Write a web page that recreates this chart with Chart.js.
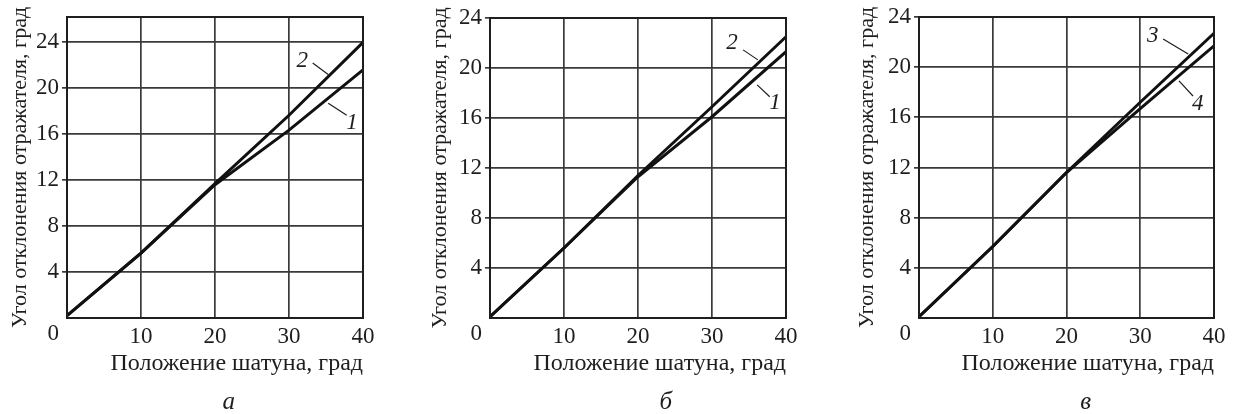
<!DOCTYPE html>
<html>
<head>
<meta charset="utf-8">
<script src="https://cdn.jsdelivr.net/npm/chart.js@4"></script>
<style>
  html, body { margin: 0; padding: 0; background: #fff; }
  #wrap { position: relative; width: 1241px; height: 414px; overflow: hidden; }
  canvas { position: absolute; top: 0; }
</style>
</head>
<body>
<div id="wrap">
  <canvas id="chart_a" width="385" height="414" style="left:0px"></canvas>
  <canvas id="chart_b" width="395" height="414" style="left:410px"></canvas>
  <canvas id="chart_c" width="401" height="414" style="left:840px"></canvas>
</div>
<script>
// crank position, deg
let x_vals = [0, 10, 20, 30, 40];

// panel a
let a_curve1 = [0.2, 5.65, 11.6, 16.35, 21.6];
let a_curve2 = [0.2, 5.65, 11.7, 17.65, 24.0];
// panel b
let b_curve1 = [0.1, 5.6, 11.3, 16.1, 21.3];
let b_curve2 = [0.1, 5.6, 11.4, 16.9, 22.5];
// panel c
let c_curve3 = [0.1, 5.7, 11.6, 17.2, 22.7];
let c_curve4 = [0.1, 5.7, 11.6, 16.7, 21.7];

let y_ticks = [4, 8, 12, 16, 20, 24];
let x_ticks = [10, 20, 30, 40];

let x_title = 'Положение шатуна, град';
let y_title = 'Угол отклонения отражателя, град';

// curve labels: [text, label x, label y, leader x1, y1, x2, y2] in data units
let a_labels = [['2', 31.8, 22.4, 33.2, 22.2, 35.3, 21.2], ['1', 38.5, 17.0, 35.3, 18.7, 37.8, 17.65]];
let b_labels = [['2', 32.7, 22.0, 34.2, 21.45, 36.2, 20.65], ['1', 38.5, 17.2, 36.1, 18.65, 37.8, 17.7]];
let c_labels = [['3', 31.7, 22.5, 33.1, 22.25, 36.5, 21.05], ['4', 37.8, 17.05, 35.25, 18.9, 37.15, 17.7]];

const FONT = '"Liberation Serif", "Times New Roman", serif';
const INK = '#1e1e1e';
const GRID = '#3a3a3a';

function pts(ys) {
    return x_vals.map((x, i) => ({x: x, y: ys[i]}));
}

const decor = {
    id: 'decor',
    afterDraw(chart) {
        let ctx = chart.ctx;
        let area = chart.chartArea;
        let sx = chart.scales.x, sy = chart.scales.y;
        let o = chart.options.plugins.decor;
        ctx.save();
        // frame
        ctx.strokeStyle = INK;
        ctx.lineWidth = 2;
        ctx.strokeRect(area.left, area.top, area.right - area.left, area.bottom - area.top);
        // curve numbers with leader lines
        ctx.lineWidth = 1.2;
        ctx.fillStyle = INK;
        ctx.font = 'italic 23px ' + FONT;
        ctx.textAlign = 'center';
        ctx.textBaseline = 'middle';
        o.labels.forEach(l => {
            ctx.fillText(l[0], sx.getPixelForValue(l[1]), sy.getPixelForValue(l[2]));
            ctx.beginPath();
            ctx.moveTo(sx.getPixelForValue(l[3]), sy.getPixelForValue(l[4]));
            ctx.lineTo(sx.getPixelForValue(l[5]), sy.getPixelForValue(l[6]));
            ctx.stroke();
        });
        // shared origin label
        ctx.font = '23px ' + FONT;
        ctx.textAlign = 'right';
        ctx.fillText('0', area.left - 8, area.bottom + 16);
        // panel letter, roughly under the axis title
        ctx.font = '24px ' + FONT;
        let tw = ctx.measureText(x_title).width;
        ctx.font = 'italic 25px ' + FONT;
        ctx.textAlign = 'center';
        ctx.fillText(o.letter, area.right - tw / 2 + o.shift, 402);
        ctx.restore();
    }
};

function make_chart(id, datasets, opts) {
    let config = {
        type: 'line',
        data: {
            datasets: datasets.map(d => ({
                data: pts(d),
                borderColor: '#111',
                borderWidth: 3,
                pointRadius: 0,
                tension: 0,
                fill: false
            }))
        },
        options: {
            responsive: false,
            animation: false,
            events: [],
            layout: {padding: {top: opts.top, right: opts.right, left: 0, bottom: 0}},
            plugins: {
                legend: {display: false},
                tooltip: {enabled: false},
                decor: {labels: opts.labels, letter: opts.letter, shift: opts.shift}
            },
            scales: {
                x: {
                    type: 'linear',
                    min: 0,
                    max: 40,
                    afterFit: s => { s.height = 96; },
                    afterBuildTicks: s => { s.ticks = x_ticks.map(v => ({value: v})); },
                    border: {display: false},
                    grid: {color: GRID, lineWidth: 1.7, drawTicks: false},
                    ticks: {color: INK, padding: 5, maxRotation: 0, font: {family: FONT, size: 23}},
                    title: {
                        display: true, text: x_title, align: 'end', color: INK,
                        font: {family: FONT, size: 24}, padding: {top: 0, bottom: 36}
                    }
                },
                y: {
                    type: 'linear',
                    min: 0,
                    max: opts.ymax,
                    afterFit: s => { s.width = opts.axisW; },
                    afterBuildTicks: s => { s.ticks = y_ticks.map(v => ({value: v})); },
                    border: {display: false},
                    grid: {color: GRID, lineWidth: 1.7, tickLength: 5},
                    ticks: {color: INK, padding: 3, font: {family: FONT, size: 23}},
                    title: {
                        display: true, text: y_title, color: INK,
                        font: {family: FONT, size: 22}, padding: {top: opts.titlePad, bottom: 0}
                    }
                }
            }
        },
        plugins: [decor]
    };
    return new Chart(document.getElementById(id).getContext('2d'), config);
}

window.chartA = make_chart('chart_a', [a_curve1, a_curve2],
    {top: 17, right: 22, axisW: 67, ymax: 26.2, titlePad: 7, labels: a_labels, letter: 'а', shift: -8});
window.chartB = make_chart('chart_b', [b_curve1, b_curve2],
    {top: 18, right: 19, axisW: 80, ymax: 24, titlePad: 17, labels: b_labels, letter: 'б', shift: 6});
window.chartC = make_chart('chart_c', [c_curve3, c_curve4],
    {top: 17, right: 27, axisW: 79, ymax: 24, titlePad: 14, labels: c_labels, letter: 'в', shift: -2});
</script>
</body>
</html>
